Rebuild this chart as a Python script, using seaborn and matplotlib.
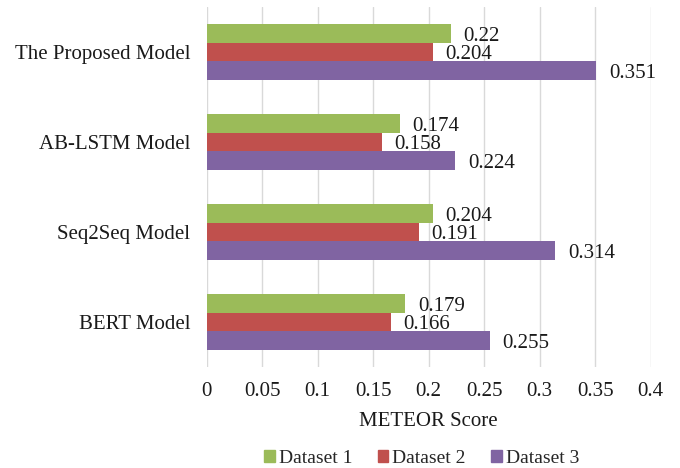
import pandas as pd
import seaborn as sns
import matplotlib.pyplot as plt
from matplotlib.patches import Patch

models = ["The Proposed Model", "AB-LSTM Model", "Seq2Seq Model", "BERT Model"]
datasets = ["Dataset 1", "Dataset 2", "Dataset 3"]
dataset1 = [0.22, 0.174, 0.204, 0.179]
dataset2 = [0.204, 0.158, 0.191, 0.166]
dataset3 = [0.351, 0.224, 0.314, 0.255]
colors = ["#9BBB59", "#C0504D", "#8064A2"]
xticks = [0, 0.05, 0.1, 0.15, 0.2, 0.25, 0.3, 0.35, 0.4]

rows = []
for ds, vals in zip(datasets, [dataset1, dataset2, dataset3]):
    for m, v in zip(models, vals):
        rows.append({"model": m, "dataset": ds, "score": v})
df = pd.DataFrame(rows)

sns.set_style("white")
plt.rcParams["font.family"] = ["Liberation Serif", "DejaVu Serif"]
txt = "#1a1a1a"

fig, ax = plt.subplots(figsize=(6.8, 4.68), dpi=100)
fig.subplots_adjust(left=0.304, right=0.957, top=0.985, bottom=0.216)

sns.barplot(data=df, y="model", x="score", hue="dataset", order=models,
            hue_order=datasets, palette=colors, orient="h", width=0.62,
            saturation=1, linewidth=0, ax=ax, legend=False)

for container in ax.containers:
    labels = [("%.3f" % b.get_width()).rstrip("0") for b in container]
    texts = ax.bar_label(container, labels=labels, padding=9, fontsize=15,
                         color=txt)
    for t in texts:
        t.xyann = (9, -2)

ax.set_xlim(0, 0.4)
ax.set_xticks(xticks)
ax.set_xticklabels([("%g" % t) for t in xticks], fontsize=15, color=txt)
ax.tick_params(axis="y", labelsize=15, colors=txt, length=0, pad=12)
ax.tick_params(axis="x", length=0, pad=11)
ax.grid(axis="x", color="#d9d9d9", linewidth=1)
ax.set_axisbelow(True)
for s in ax.spines.values():
    s.set_visible(False)
ax.set_ylabel("")
ax.set_xlabel("METEOR Score", fontsize=15, color=txt, labelpad=8)

handles = [Patch(color=c, label=d) for c, d in zip(colors, datasets)]
fig.legend(handles=handles, loc="lower center", ncol=3, frameon=False,
           bbox_to_anchor=(0.62, -0.035), fontsize=14, handlelength=0.55,
           handleheight=0.55, handletextpad=0.2, columnspacing=1.3)

fig.savefig("out.png", dpi=100)
